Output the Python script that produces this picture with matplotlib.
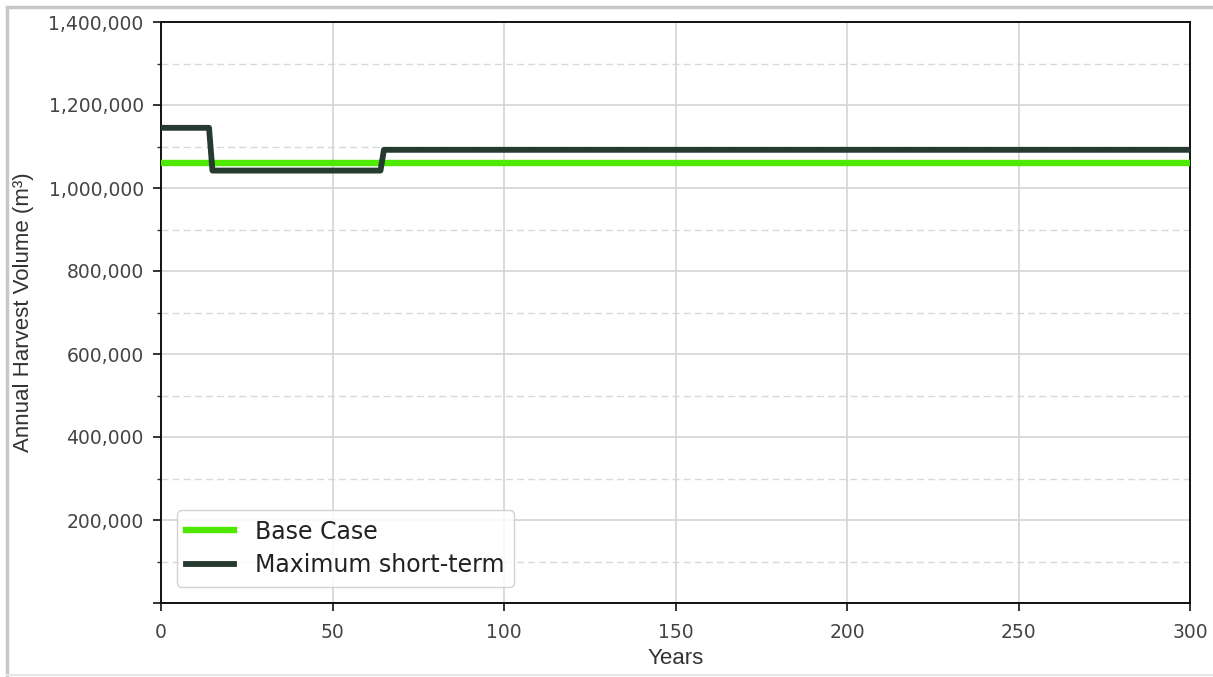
import matplotlib
matplotlib.use("Agg")
import matplotlib.pyplot as plt
from matplotlib.ticker import MultipleLocator, FuncFormatter
from matplotlib.lines import Line2D

# Harvest schedules (years, annual volume in m³)
base_years = [0, 300]
base_volume = [1060000, 1060000]

max_years = [0, 14, 15, 64, 65, 300]
max_volume = [1145000, 1145000, 1042000, 1042000, 1092000, 1092000]

series_labels = ["Base Case", "Maximum short-term"]
series_colors = ["#4fe800", "#263a30"]

fig = plt.figure(figsize=(12.13, 6.77), dpi=100)
ax = fig.add_axes([161 / 1213, 1 - 603 / 677, (1190 - 161) / 1213, (603 - 22) / 677])

ax.plot(base_years, base_volume, color=series_colors[0], lw=4.6, label=series_labels[0], zorder=3)
ax.plot(max_years, max_volume, color=series_colors[1], lw=4.2, label=series_labels[1], zorder=4)

ax.set_xlim(0, 300)
ax.set_ylim(0, 1400000)
ax.xaxis.set_major_locator(MultipleLocator(50))
ax.yaxis.set_major_locator(MultipleLocator(200000))
ax.yaxis.set_minor_locator(MultipleLocator(100000))

def fmt(v, pos):
    if v <= 0:
        return ""
    return f"{int(v):,}"

ax.yaxis.set_major_formatter(FuncFormatter(fmt))

ax.grid(which="major", color="#d4d4d4", lw=1.2, ls="-", zorder=0)
ax.grid(which="minor", axis="y", color="#d8d8d8", lw=1.0, ls=(0, (5, 3)), zorder=0)

for s in ax.spines.values():
    s.set_color("#111111")
    s.set_linewidth(1.4)

ax.tick_params(which="major", length=5.5, width=1.2, color="#111111",
               labelsize=13.5, labelcolor="#444444")
ax.tick_params(axis="y", which="major", pad=7)
ax.tick_params(axis="x", which="major", pad=9)
ax.tick_params(axis="y", which="minor", length=3, width=1.0, color="#333333")

ax.set_xlabel("Years", family="Liberation Sans", fontsize=16, color="#333333", labelpad=4)
ax.set_ylabel("Annual Harvest Volume (m³)", family="Liberation Sans", fontsize=16,
              color="#333333", labelpad=10)

leg = ax.legend(loc="lower left", fontsize=17, frameon=True, fancybox=True,
                handlelength=2.0, handletextpad=0.9, borderpad=0.4, labelspacing=0.4,
                bbox_to_anchor=(0.004, 0.008))
leg.get_frame().set_edgecolor("#cccccc")
leg.get_frame().set_alpha(0.85)
for t in leg.get_texts():
    t.set_color("#222222")

# Light frame around the figure
frame_color = "#c8c8c8"
fig.add_artist(Line2D([7 / 1213, 7 / 1213], [1 - 675 / 677, 1 - 7 / 677],
                      transform=fig.transFigure, color=frame_color, lw=2.5))
fig.add_artist(Line2D([7 / 1213, 1.0], [1 - 7 / 677, 1 - 7 / 677],
                      transform=fig.transFigure, color=frame_color, lw=2.5))
fig.add_artist(Line2D([7 / 1213, 1.0], [1 - 675 / 677, 1 - 675 / 677],
                      transform=fig.transFigure, color="#e6e6e6", lw=1.5))

fig.savefig("out.png", dpi=100)
